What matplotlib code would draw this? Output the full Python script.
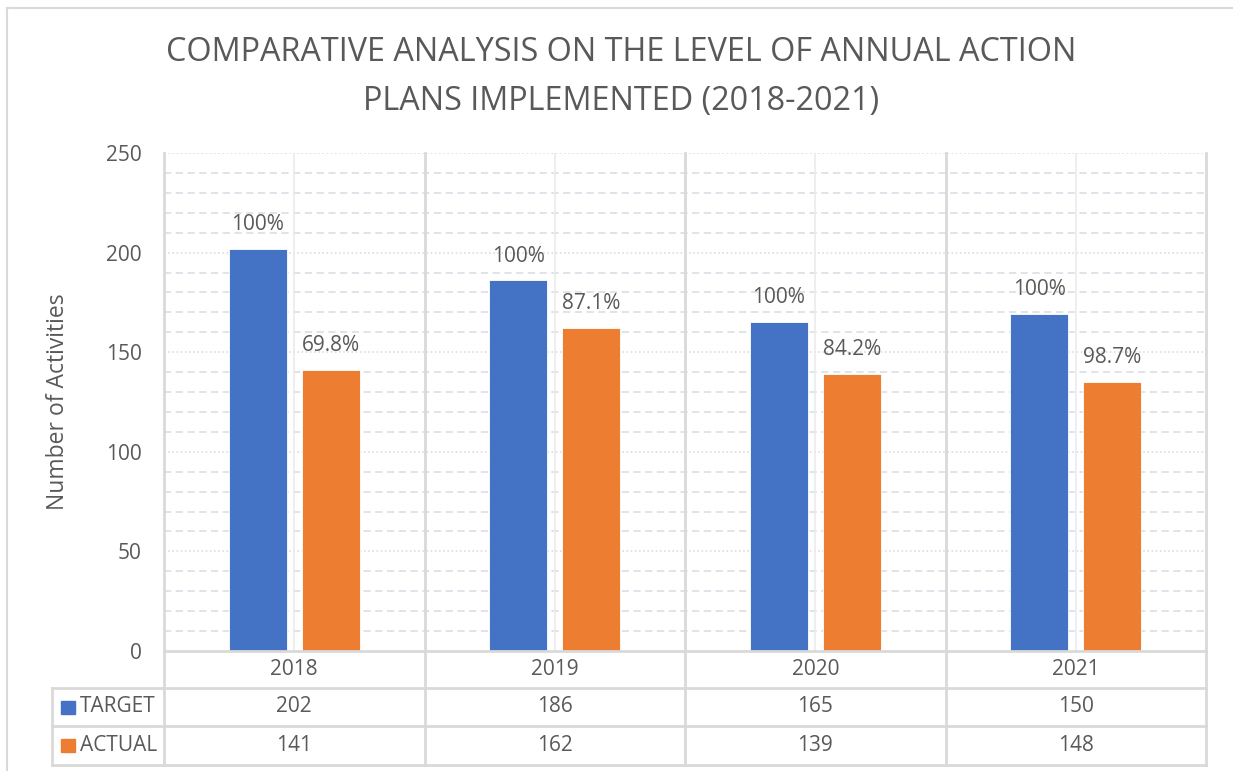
import matplotlib
matplotlib.use("Agg")
import matplotlib.pyplot as plt
from matplotlib.lines import Line2D
from matplotlib.patches import Rectangle
import numpy as np

# ---- data ----
years = ["2018", "2019", "2020", "2021"]
target_bars = [202, 186, 165, 169]
actual_bars = [141, 162, 139, 135]
target_labels = ["100%", "100%", "100%", "100%"]
actual_labels = ["69.8%", "87.1%", "84.2%", "98.7%"]
table_target = ["202", "186", "165", "150"]
table_actual = ["141", "162", "139", "148"]
series_names = ["TARGET", "ACTUAL"]

title = "COMPARATIVE ANALYSIS ON THE LEVEL OF ANNUAL ACTION\nPLANS IMPLEMENTED (2018-2021)"
ylabel = "Number of Activities"

BLUE = "#4472C4"
ORANGE = "#ED7D31"
TXT = "#595959"
GRID = "#D9D9D9"
FONT = ["Open Sans", "DejaVu Sans"]
plt.rcParams["font.family"] = FONT
FS = 15

W, H = 1233, 771
fig = plt.figure(figsize=(W / 100, H / 100), dpi=100)

def fx(px):
    return px / W

def fy(py):
    return 1 - py / H

# plot area in pixels
L, R, T, B = 164, 1206, 153, 651
ax = fig.add_axes([fx(L), fy(B), fx(R) - fx(L), fy(T) - fy(B)])
ax.set_xlim(-0.5, len(years) - 0.5)
ax.set_ylim(0, 250)

x = np.arange(len(years))
bw = 0.223
off = 0.14
b1 = ax.bar(x - off, target_bars, bw, color=BLUE, edgecolor="white", linewidth=0.6, zorder=3)
b2 = ax.bar(x + off, actual_bars, bw, color=ORANGE, edgecolor="white", linewidth=0.6, zorder=3)

for rects, labs in ((b1, target_labels), (b2, actual_labels)):
    for r, lab in zip(rects, labs):
        ax.annotate(lab, (r.get_x() + r.get_width() / 2, r.get_height()),
                    xytext=(0, 10), textcoords="offset points",
                    ha="center", va="bottom", fontsize=FS, color=TXT)

# gridlines
for v in range(10, 250, 10):
    if v % 50 == 0:
        ax.axhline(v, color="#D9DDE6", lw=1.2, ls=(0, (1, 1.5)), zorder=1)
    else:
        ax.axhline(v, color="#DDE0E8", lw=1.3, ls=(0, (4, 2.5)), zorder=1)
ax.axhline(250, color="#D9DDE6", lw=1.2, ls=(0, (1, 1.5)), zorder=1)
for c in x:
    ax.axvline(c, color="#EBEBEB", lw=1.2, zorder=1)

ax.set_yticks(range(0, 251, 50))
ax.tick_params(axis="y", length=0, labelsize=FS, labelcolor=TXT, pad=16)
ax.set_xticks([])
for s in ax.spines.values():
    s.set_visible(False)
ax.patch.set_alpha(0)

fig.text(fx(58), fy(402), ylabel, rotation=90, ha="center", va="center",
         fontsize=16.5, color=TXT)

fig.text(fx(621), fy(77), title, ha="center", va="center", fontsize=23.3,
         color=TXT, linespacing=1.65)

# ---- data table ----
bounds = [L + (R - L) * i / len(years) for i in range(len(years) + 1)]
rows = [651, 688, 726, 765]
lc = GRID
lw = 2

def hline(x0, x1, y):
    fig.add_artist(Line2D([fx(x0), fx(x1)], [fy(y), fy(y)], color=lc, lw=lw))

def vline(xp, y0, y1, color=lc):
    fig.add_artist(Line2D([fx(xp), fx(xp)], [fy(y0), fy(y1)], color=color, lw=lw))

hline(L, R, rows[0])
for yy in rows[1:]:
    hline(52, R, yy)
for xb in bounds:
    vline(xb, T, rows[-1])
vline(52, rows[1], rows[-1])

row_centers = [(rows[i] + rows[i + 1]) / 2 for i in range(3)]
for i, yr in enumerate(years):
    cx = (bounds[i] + bounds[i + 1]) / 2
    fig.text(fx(cx), fy(row_centers[0]), yr, ha="center", va="center", fontsize=FS, color=TXT)
    fig.text(fx(cx), fy(row_centers[1]), table_target[i], ha="center", va="center", fontsize=FS, color=TXT)
    fig.text(fx(cx), fy(row_centers[2]), table_actual[i], ha="center", va="center", fontsize=FS, color=TXT)

for name, col, yc in zip(series_names, [BLUE, ORANGE], row_centers[1:]):
    fig.add_artist(Rectangle((fx(61), fy(yc + 6.5)), fx(14), fy(0) - fy(13),
                             color=col, transform=fig.transFigure))
    fig.text(fx(80), fy(yc), name, ha="left", va="center", fontsize=FS, color=TXT)

# outer chart border
fig.add_artist(Line2D([fx(7), fx(7)], [fy(8), fy(H + 5)], color=GRID, lw=1.5))
fig.add_artist(Line2D([fx(7), fx(W + 5)], [fy(8), fy(8)], color=GRID, lw=1.5))

fig.savefig("out.png", dpi=100)
